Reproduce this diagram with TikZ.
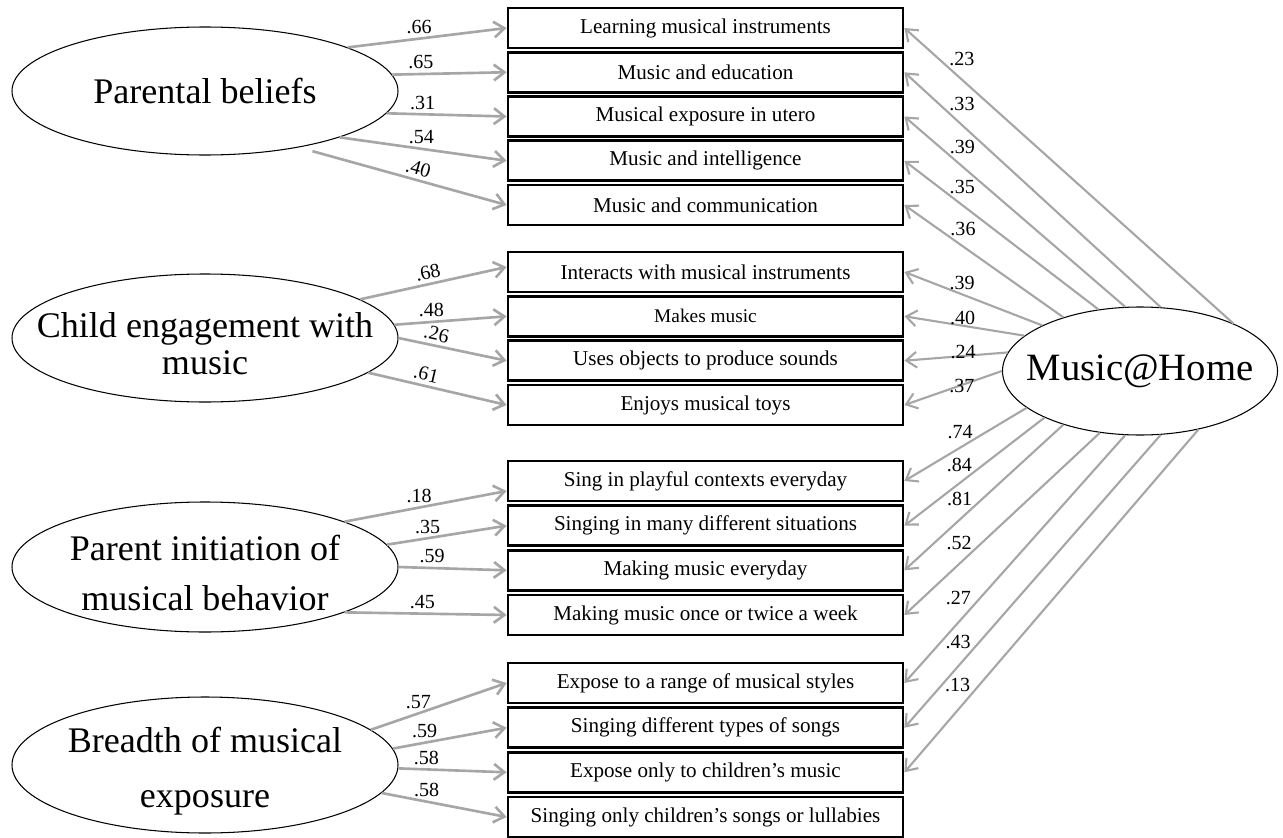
\documentclass[tikz,border=0pt]{standalone}
\usepackage{fontspec}
\setmainfont{Liberation Serif}
\usetikzlibrary{shapes.geometric,arrows.meta}
\definecolor{loadgray}{RGB}{166,166,166}

\begin{document}
\begin{tikzpicture}[
  item/.style={draw, line width=1.6pt, minimum width=7.9cm, minimum height=0.8cm, inner sep=0pt, font=\fontsize{12}{14}\selectfont},
  latent/.style={draw, ellipse, line width=0.6pt, minimum width=7.72cm, minimum height=2.56cm, inner sep=0pt},
  lattext/.style={align=center, yshift=-0.12cm, font=\fontsize{20.5}{#1}\selectfont},
  loading/.style={draw=loadgray, line width=1.5pt, -{Straight Barb[length=6pt,width=9pt]}},
  mhload/.style={loading, line width=1.2pt},
  coef/.style={font=\fontsize{11.4}{13}\selectfont, inner sep=2pt},
  mhcoef/.style={coef, yshift=-3.5pt}
]
    \useasboundingbox (0,0) rectangle (25.66,-16.74);

    \node[latent, label={[lattext=24pt, yshift=0.12cm]center:Parental beliefs}] (pb) at (4.10,-1.82) {};
    \node[latent, label={[lattext=21pt]center:Child engagement with\\music}] (ce) at (4.10,-6.76) {};
    \node[latent, minimum height=2.6cm, label={[lattext=28pt]center:Parent initiation of\\musical behavior}] (pib) at (4.10,-11.34) {};
    \node[latent, minimum height=2.72cm, label={[lattext=31pt]center:Breadth of musical\\exposure}] (be) at (4.10,-15.30) {};
    \node[latent, minimum width=5.5cm, label={[font=\fontsize{22}{26}\selectfont]center:Music@Home}] (mh) at (22.80,-7.42) {};

    \node[item] (q1) at (14.11,-0.56) {Learning musical instruments};
    \node[item] (q2) at (14.11,-1.445) {Music and education};
    \node[item] (q3) at (14.11,-2.33) {Musical exposure in utero};
    \node[item] (q4) at (14.11,-3.215) {Music and intelligence};
    \node[item] (q5) at (14.11,-4.10) {Music and communication};
    \node[item] (q6) at (14.11,-5.44) {Interacts with musical instruments};
    \node[item, font=\fontsize{11}{13}\selectfont] (q7) at (14.11,-6.326) {Makes music};
    \node[item] (q8) at (14.11,-7.214) {Uses objects to produce sounds};
    \node[item] (q9) at (14.11,-8.10) {Enjoys musical toys};
    \node[item] (q10) at (14.11,-9.62) {Sing in playful contexts everyday};
    \node[item] (q11) at (14.11,-10.514) {Singing in many different situations};
    \node[item] (q12) at (14.11,-11.406) {Making music everyday};
    \node[item] (q13) at (14.11,-12.30) {Making music once or twice a week};
    \node[item] (q14) at (14.11,-13.66) {Expose to a range of musical styles};
    \node[item] (q15) at (14.11,-14.554) {Singing different types of songs};
    \node[item] (q16) at (14.11,-15.446) {Expose only to children's music};
    \node[item] (q17) at (14.11,-16.34) {Singing only children's songs or lullabies};

    \draw[loading] (pb.17) -- node[coef, pos=.45, above] {.66} (q1.west);
    \draw[loading] (pb.5) -- node[coef, pos=.25, above] {.65} (q2.west);
    \draw[loading] (pb.-7) -- node[coef, pos=.30, above] {.31} (q3.west);
    \draw[loading] (pb.-19) -- node[coef, pos=.49, above] {.54} (q4.west);
    \draw[loading, shorten <=8pt] (pb.-31) -- node[coef, pos=.56, above, sloped] {.40} (q5.west);

    \draw[loading] (ce.14) -- node[coef, pos=.48, above, sloped] {.68} ([yshift=0.1cm]q6.west);
    \draw[loading] (ce.4) -- node[coef, pos=.33, above] {.48} (q7.west);
    \draw[loading] (ce.0) -- node[coef, pos=.33, above, sloped] {.26} (q8.west);
    \draw[loading] (ce.-12) -- node[coef, pos=.40, above, sloped] {.61} (q9.west);

    \draw[loading] (pib.18) -- node[coef, pos=.46, above] {.18} ([yshift=-0.2cm]q10.west);
    \draw[loading] (pib.7) -- node[coef, pos=.34, above] {.35} (q11.west);
    \draw[loading] (pib.0) -- node[coef, pos=.31, above] {.59} (q12.west);
    \draw[loading] (pib.-18) -- node[coef, pos=.48, above] {.45} (q13.west);

    \draw[loading] (be.12) -- node[coef, pos=.35, above] {.57} (q14.west);
    \draw[loading] (be.5) -- node[coef, pos=.28, above] {.59} (q15.west);
    \draw[loading] (be.-1) -- node[coef, pos=.26, above] {.58} (q16.west);
    \draw[loading] (be.-9) -- node[coef, pos=.36, above] {.58} (q17.west);

    \draw[mhload] (mh.27) -- node[mhcoef, pos=.877, anchor=south west] {.23} (q1.east);
    \draw[mhload] (mh.72) -- node[mhcoef, pos=.842, anchor=south west] {.33} (q2.east);
    \draw[mhload] (mh.103) -- node[mhcoef, pos=.815, anchor=south west] {.39} (q3.east);
    \draw[mhload] (mh.124) -- node[mhcoef, pos=.790, anchor=south west] {.35} (q4.east);
    \draw[mhload] (mh.145) -- node[mhcoef, pos=.739, anchor=south west] {.36} (q5.east);
    \draw[mhload] (mh.155) -- node[mhcoef, pos=.705, anchor=south west] {.39} (q6.east);
    \draw[mhload] (mh.163) -- node[mhcoef, pos=.658, anchor=south west] {.40} (q7.east);
    \draw[mhload] (mh.172) -- node[mhcoef, pos=.598, anchor=south west] {.24} (q8.east);
    \draw[mhload] (mh.180) -- node[mhcoef, pos=.586, anchor=south west] {.37} (q9.east);
    \draw[mhload] (mh.198) -- node[mhcoef, pos=.404, anchor=south east] {.74} (q10.east);
    \draw[mhload] (mh.206) -- node[mhcoef, pos=.486, anchor=south east] {.84} (q11.east);
    \draw[mhload] (mh.215) -- node[mhcoef, pos=.545, anchor=south east] {.81} (q12.east);
    \draw[mhload] (mh.237) -- node[mhcoef, pos=.633, anchor=south east] {.52} (q13.east);
    \draw[mhload] (mh.257) -- node[mhcoef, pos=.678, anchor=south east] {.27} (q14.east);
    \draw[mhload] (mh.288) -- node[mhcoef, pos=.724, anchor=south east] {.43} (q15.east);
    \draw[mhload] (mh.315) -- node[mhcoef, pos=.761, anchor=south east] {.13} (q16.east);
\end{tikzpicture}
\end{document}
